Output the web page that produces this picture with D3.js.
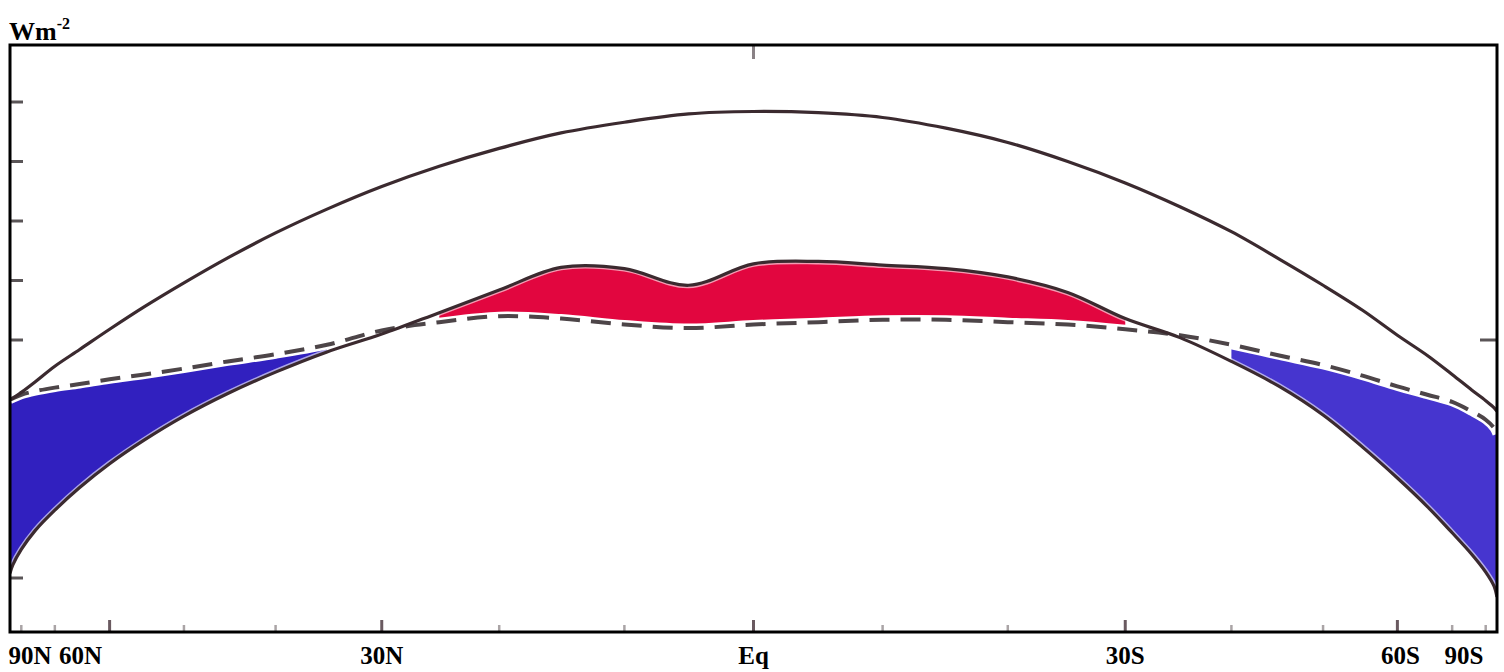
<!DOCTYPE html>
<html><head><meta charset="utf-8">
<script src="https://cdn.jsdelivr.net/npm/d3@7"></script>
<style>body{margin:0;background:#fff;overflow:hidden}</style>
</head><body>
<svg id="chart" width="1504" height="672"></svg>
<script>
// ---- data (latitude in degrees, +N / -S; values in W m^-2) ----
const latitudes = [90,85,80,75,70,65,60,55,50,45,40,35,30,25,20,15,10,5,0,
  -5,-10,-15,-20,-25,-30,-35,-40,-45,-50,-55,-60,-65,-70,-75,-80,-85,-90];
const incomingSolar = [200,201,206,215,228,242,259,278,298,319,340,360,379,396,411,424,433,440,442,
  441,437,428,416,400,382,362,341,318,296,275,254,237,221,208,199,193,190];
const absorbedSolar = [54,61,74,90,107,126,146,166,186,205,223,240,255,273,292,311,310,296,314,
  316,313,310,303,290,268,252,232,211,187,160,134,110,88,70,55,43,34];
const outgoingLongwave = [200,201,204,207,210,213,217,221,226,232,238,246,258,265,270,268,263,260,263,
  265,267,267,265,263,259,254,246,237,229,220,211,204,198,190,183,176,171];
const surplusLats = [25,-30];          // red: absorbed > outgoing
const deficitNorthLats = [90,35];      // blue: outgoing > absorbed
const deficitSouthLats = [-40,-90];
const labelLats = [90,60,30,0,-30,-60,-90];
const labelTexts = ["90N","60N","30N","Eq","30S","60S","90S"];
const xTickLats = [80,70,60,50,40,30,20,10,0,-10,-20,-30,-40,-50,-60,-70,-80];
const majorTickLats = [60,30,0,-30,-60];
const yTickValues = [50,100,150,200,250,300,350,400,450];
const rightTickValues = [250];
const topTickLats = [0];
const unitLabel = "Wm";
const unitExp = "-2";

// ---- layout ----
const frame = {left:10, right:1497, top:45, bottom:632};
const svg = d3.select("#chart");
const sinScale = d3.scaleLinear().domain([1,-1]).range([frame.left,frame.right]);
const x = lat => sinScale(Math.sin(lat*Math.PI/180));
const y = d3.scaleLinear().domain([0,500]).range([637.5,42.5]);

const rows = latitudes.map((lat,i)=>({lat, inc:incomingSolar[i], abs:absorbedSolar[i], olr:outgoingLongwave[i]}));
const inRange = (d,r) => d.lat <= r[0] && d.lat >= r[1];

svg.append("defs").append("clipPath").attr("id","clip")
  .append("rect").attr("x",frame.left).attr("y",frame.top)
  .attr("width",frame.right-frame.left).attr("height",frame.bottom-frame.top);

// ticks
const tg = svg.append("g").attr("stroke","#5a5557").attr("stroke-linecap","butt");
tg.selectAll(".yt").data(yTickValues).join("line")
  .attr("x1",frame.left).attr("x2",frame.left+13)
  .attr("y1",d=>y(d)).attr("y2",d=>y(d)).attr("stroke-width",3);
tg.selectAll(".rt").data(rightTickValues).join("line")
  .attr("x1",frame.right-17).attr("x2",frame.right)
  .attr("y1",d=>y(d)).attr("y2",d=>y(d)).attr("stroke-width",3);
tg.selectAll(".xt").data(xTickLats).join("line")
  .attr("x1",d=>x(d)).attr("x2",d=>x(d))
  .attr("y1",frame.bottom).attr("y2",d=>frame.bottom-(majorTickLats.includes(d)?12:7))
  .attr("stroke-width",d=>majorTickLats.includes(d)?3:2.5)
  .attr("stroke",d=>majorTickLats.includes(d)?"#6a5a60":"#aaa4a6");
tg.selectAll(".tt").data(topTickLats).join("line")
  .attr("x1",d=>x(d)).attr("x2",d=>x(d))
  .attr("y1",frame.top).attr("y2",frame.top+14).attr("stroke-width",3).attr("stroke","#8a8286");

const plot = svg.append("g").attr("clip-path","url(#clip)");
const curve = d3.curveCatmullRom.alpha(0.5);

// fills
const fillArea = d3.area().x(d=>x(d.lat)).y0(d=>y(d.olr)).y1(d=>y(d.abs)).curve(curve);
plot.append("path").datum(rows.filter(d=>inRange(d,surplusLats)))
  .attr("d",fillArea).attr("fill","#e2063f");
plot.append("path").datum(rows.filter(d=>inRange(d,deficitNorthLats)))
  .attr("d",fillArea).attr("fill","#3120bf");
plot.append("path").datum(rows.filter(d=>inRange(d,deficitSouthLats)))
  .attr("d",fillArea).attr("fill","#4635cf");

// lines
const line = key => d3.line().x(d=>x(d.lat)).y(d=>y(d[key])).curve(curve);
plot.append("path").datum(rows).attr("d",line("olr"))
  .attr("fill","none").attr("stroke","#fff").attr("stroke-width",9);
plot.append("path").datum(rows).attr("d",line("abs"))
  .attr("fill","none").attr("stroke","#fff").attr("stroke-width",6).attr("stroke-opacity",0.6);
plot.append("path").datum(rows).attr("d",line("inc"))
  .attr("fill","none").attr("stroke","#fff").attr("stroke-width",6).attr("stroke-opacity",0.6);
plot.append("path").datum(rows).attr("d",line("olr"))
  .attr("fill","none").attr("stroke","#4d4548").attr("stroke-width",4)
  .attr("stroke-dasharray","20 11");
plot.append("path").datum(rows).attr("d",line("abs"))
  .attr("fill","none").attr("stroke","#3b2a2f").attr("stroke-width",3.2);
plot.append("path").datum(rows).attr("d",line("inc"))
  .attr("fill","none").attr("stroke","#3b2a2f").attr("stroke-width",3.2);

// frame
svg.append("rect").attr("x",frame.left).attr("y",frame.top)
  .attr("width",frame.right-frame.left).attr("height",frame.bottom-frame.top)
  .attr("fill","none").attr("stroke","#000").attr("stroke-width",3);

// labels
const labelShift = {"90N":20,"60N":-29,"90S":-33,"60S":3};
svg.selectAll(".xl").data(labelLats).join("text")
  .attr("x",(d,i)=>x(d)+(labelShift[labelTexts[i]]||0)).attr("y",664)
  .attr("text-anchor","middle")
  .attr("font-family","'Liberation Serif','Times New Roman',serif")
  .attr("font-weight","bold").attr("font-size",25).attr("fill","#000")
  .text((d,i)=>labelTexts[i]);

const ul = svg.append("text").attr("x",9).attr("y",40)
  .attr("font-family","'Liberation Serif','Times New Roman',serif")
  .attr("font-weight","bold").attr("font-size",26).attr("fill","#000");
ul.append("tspan").text(unitLabel);
ul.append("tspan").attr("font-size",16).attr("dy",-11).text(unitExp);
</script>
</body></html>
